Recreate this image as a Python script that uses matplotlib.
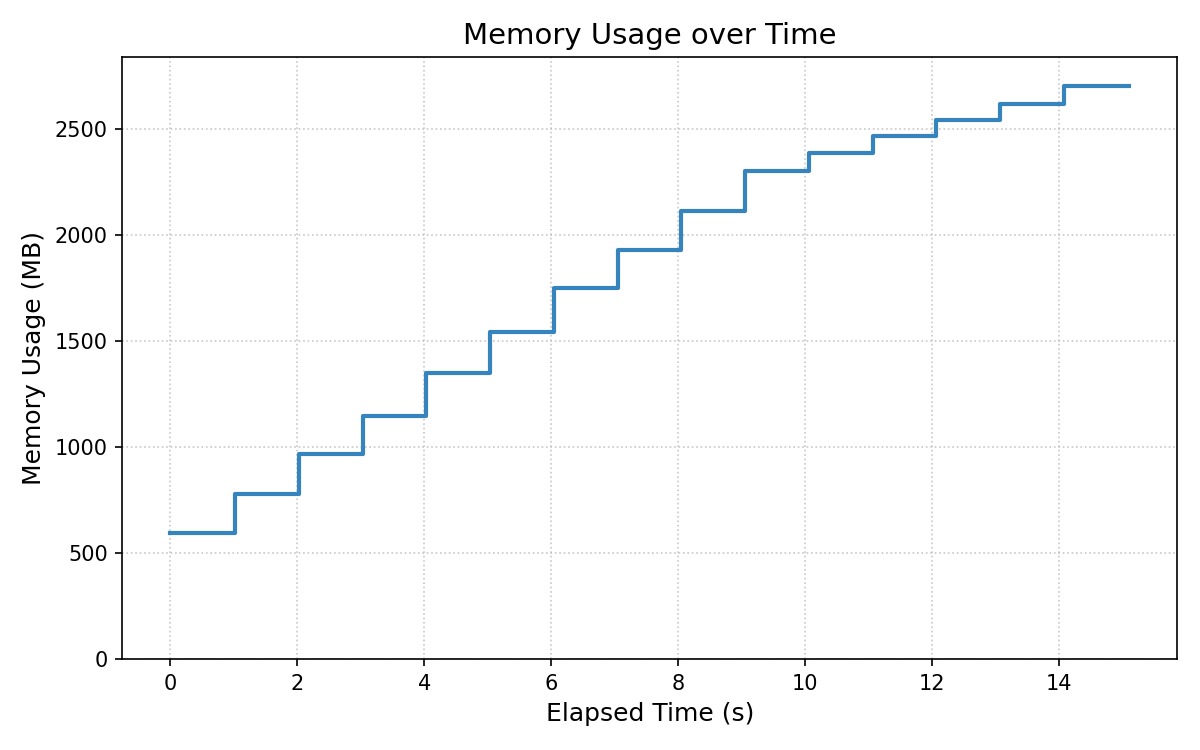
import matplotlib
matplotlib.use("Agg")
import matplotlib.pyplot as plt

# elapsed time of each sample (s) and memory in use (MB)
elapsed = [0.0, 1.02, 2.02, 3.03, 4.03, 5.04, 6.04, 7.05, 8.04, 9.05,
           10.05, 11.06, 12.06, 13.07, 14.07, 15.10]
memory_mb = [595, 780, 968, 1148, 1350, 1545, 1750, 1928, 2115, 2303,
             2388, 2467, 2543, 2617, 2705, 2705]

fig, ax = plt.subplots(figsize=(8, 5), dpi=150)
ax.step(elapsed, memory_mb, where='post', color='#3584bd', linewidth=2)

ax.set_title('Memory Usage over Time', fontsize=14)
ax.set_xlabel('Elapsed Time (s)', fontsize=12)
ax.set_ylabel('Memory Usage (MB)', fontsize=12)
ax.set_ylim(0, max(memory_mb) * 1.05)
ax.grid(True, linestyle=':', color='#bbbbbb', alpha=0.8)

plt.subplots_adjust(left=0.102, right=0.981, top=0.924, bottom=0.121)
plt.savefig('out.png')
